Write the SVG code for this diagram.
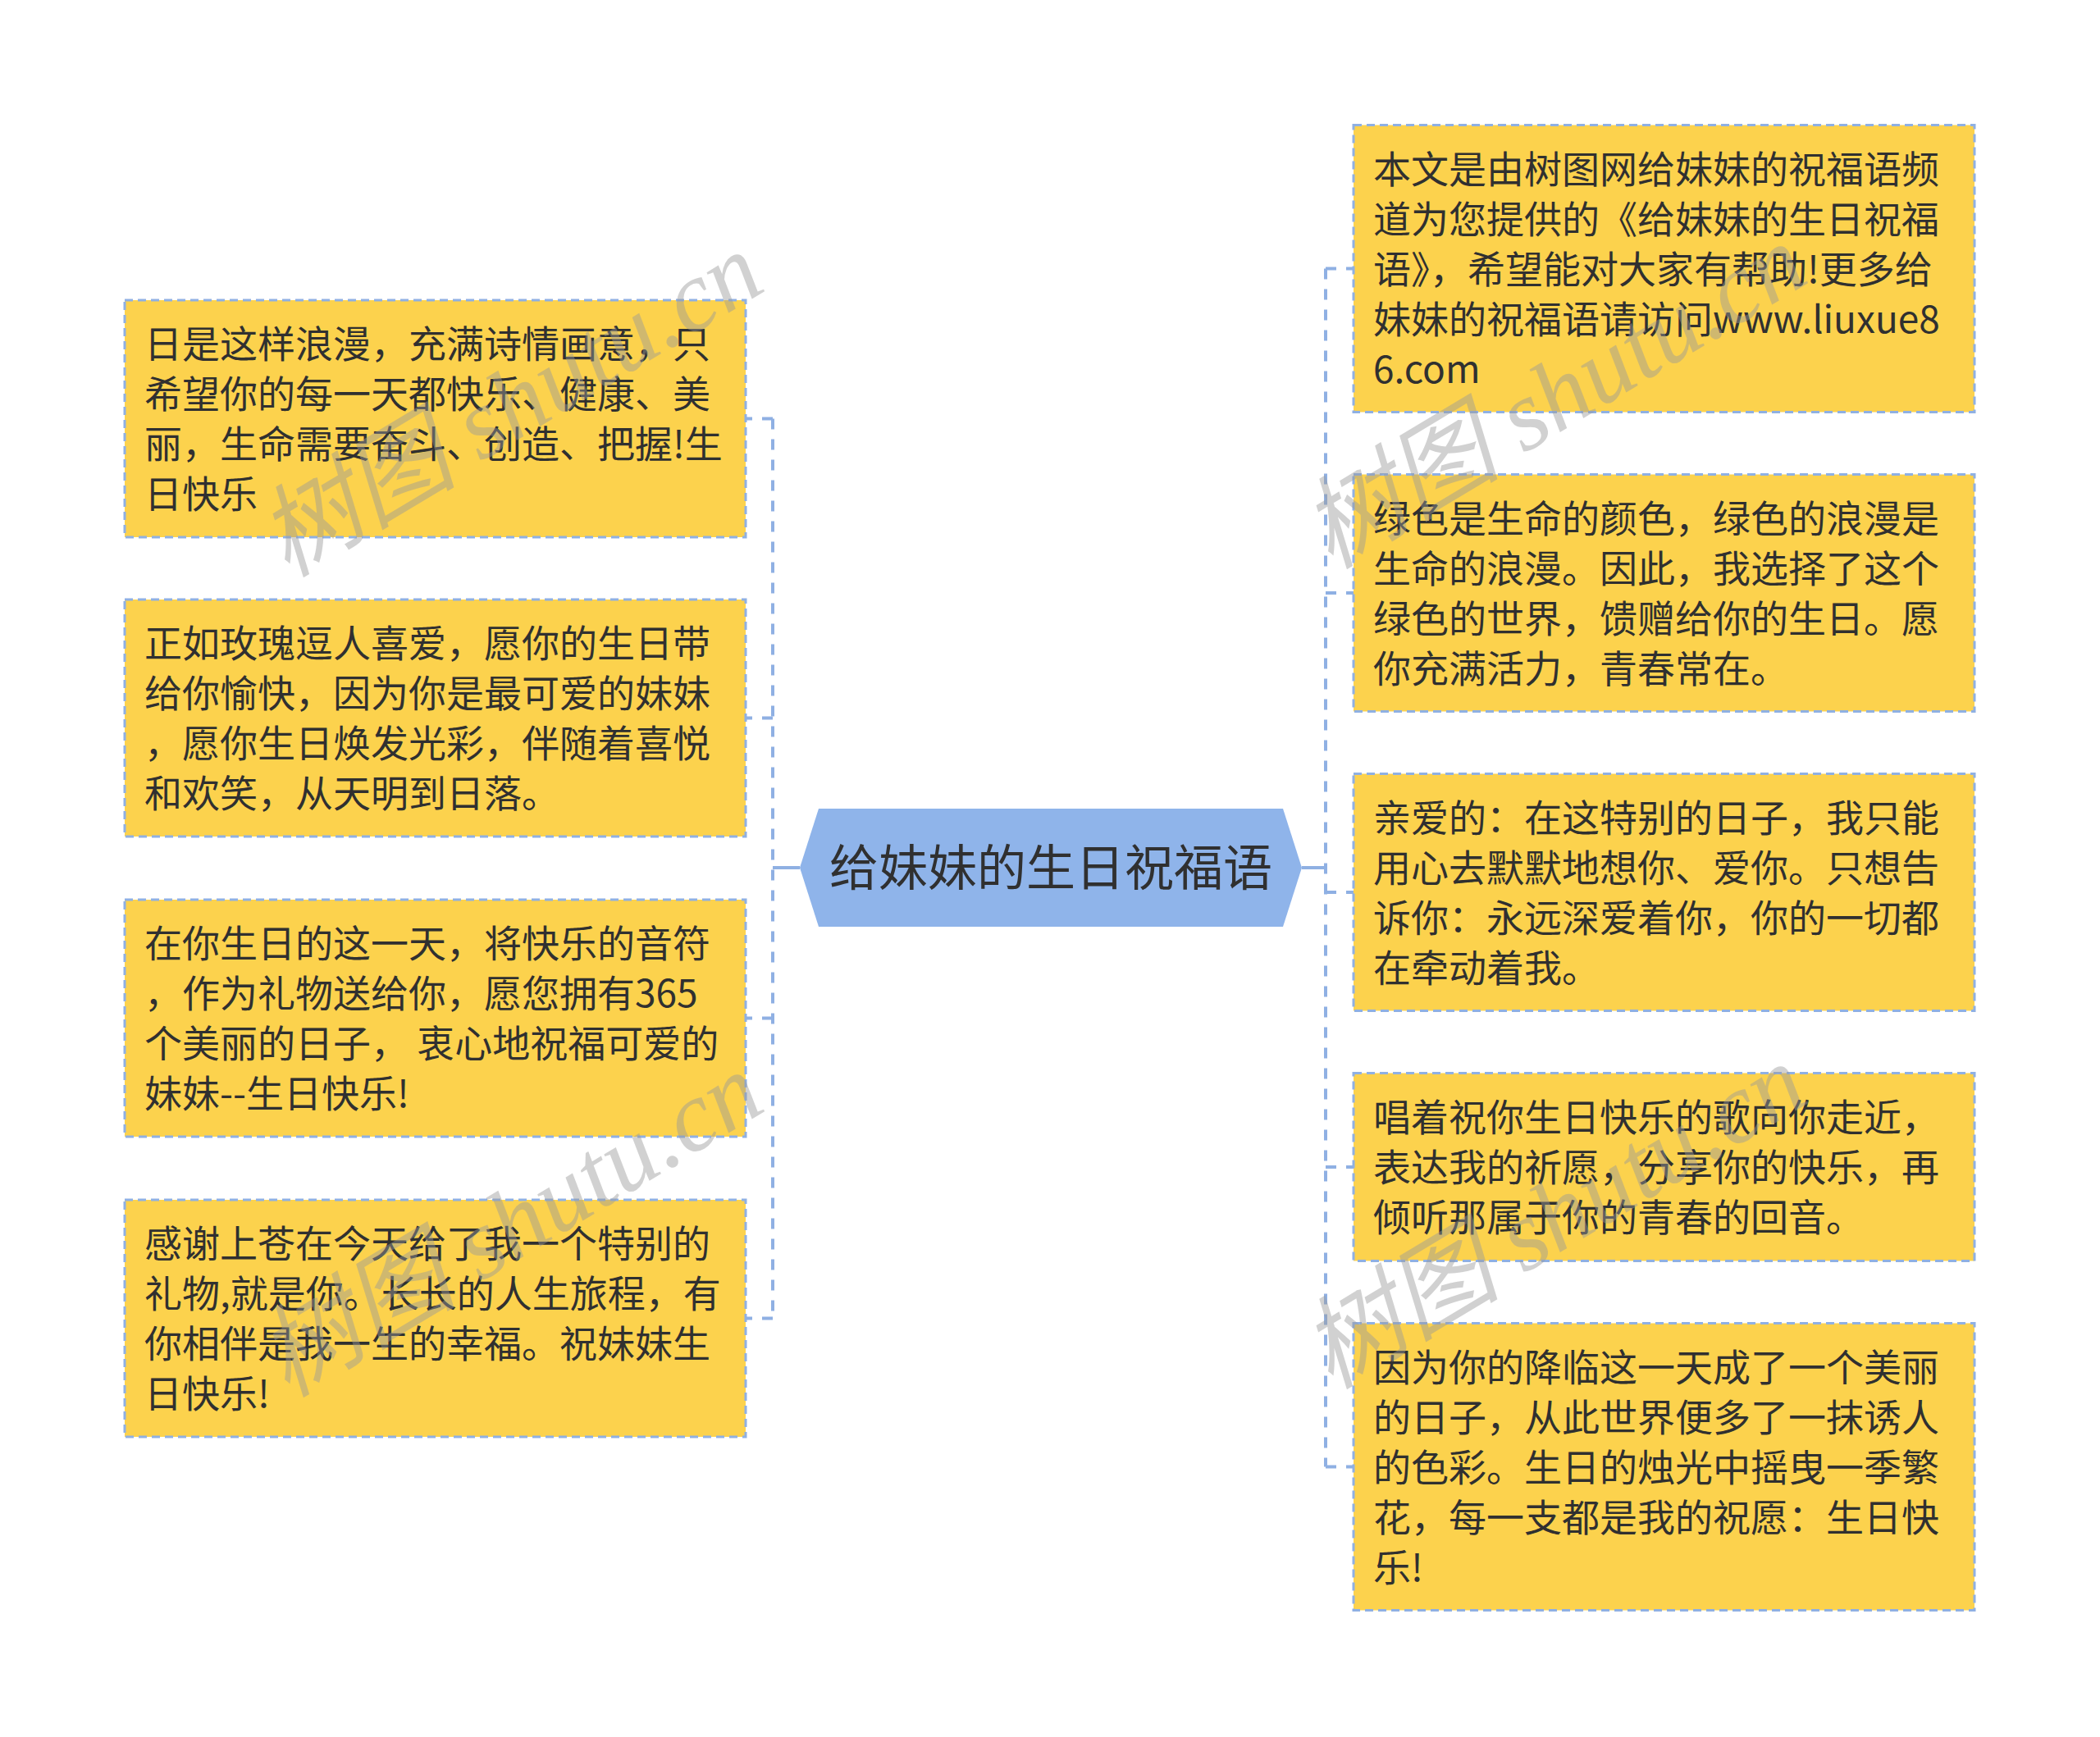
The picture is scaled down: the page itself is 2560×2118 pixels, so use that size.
<svg xmlns="http://www.w3.org/2000/svg" width="2560" height="2118" viewBox="0 0 2560 2118">
<style>
.box{fill:#fcd24d;stroke:#8fb0e3;stroke-width:3;stroke-dasharray:10 6}
.t{font-family:"Noto Sans CJK SC","Noto Sans",sans-serif;font-size:46px;fill:#303030}
.ct{font-family:"Noto Sans CJK SC","Noto Sans",sans-serif;font-size:60px;fill:#303030}
.c{fill:none;stroke:#8fb0e3;stroke-width:4}
.d{stroke-dasharray:13 12}
.wm{font-family:"Liberation Serif","Noto Sans CJK SC",serif;font-style:italic;font-size:122px;fill:#9a9a9a;fill-opacity:0.45}
</style>
<rect width="2560" height="2118" fill="#ffffff"/>
<g id="connectors">
<path class="c" d="M975 1058H942"/>
<path class="c d" d="M942 510.5V1607.5"/>
<path class="c d" d="M942 510.5H909M942 875.5H909M942 1241.5H909M942 1607.5H909"/>
<path class="c" d="M1587 1058H1616"/>
<path class="c d" d="M1616 327.5V1788.5"/>
<path class="c d" d="M1616 327.5H1650M1616 723H1650M1616 1088H1650M1616 1423H1650M1616 1788.5H1650"/>
</g>
<g id="center">
<polygon points="975,1058 998,986 1564,986 1587,1058 1564,1130 998,1130" fill="#8fb4ea"/>
<text class="ct" x="1281" y="1080" text-anchor="middle">给妹妹的生日祝福语</text>
</g>
<g id="L1">
<rect class="box" x="152" y="366" width="757" height="289"/>
<text class="t" x="176"><tspan x="176" y="436">日是这样浪漫，充满诗情画意，只</tspan><tspan x="176" y="497">希望你的每一天都快乐、健康、美</tspan><tspan x="176" y="558">丽，生命需要奋斗、创造、把握!生</tspan><tspan x="176" y="619">日快乐</tspan></text>
</g>
<g id="L2">
<rect class="box" x="152" y="731" width="757" height="289"/>
<text class="t" x="176"><tspan x="176" y="801">正如玫瑰逗人喜爱，愿你的生日带</tspan><tspan x="176" y="862">给你愉快，因为你是最可爱的妹妹</tspan><tspan x="176" y="923">，愿你生日焕发光彩，伴随着喜悦</tspan><tspan x="176" y="984">和欢笑，从天明到日落。</tspan></text>
</g>
<g id="L3">
<rect class="box" x="152" y="1097" width="757" height="289"/>
<text class="t" x="176"><tspan x="176" y="1167">在你生日的这一天，将快乐的音符</tspan><tspan x="176" y="1228">，作为礼物送给你，愿您拥有365</tspan><tspan x="176" y="1289">个美丽的日子， 衷心地祝福可爱的</tspan><tspan x="176" y="1350">妹妹--生日快乐!</tspan></text>
</g>
<g id="L4">
<rect class="box" x="152" y="1463" width="757" height="289"/>
<text class="t" x="176"><tspan x="176" y="1533">感谢上苍在今天给了我一个特别的</tspan><tspan x="176" y="1594">礼物,就是你。长长的人生旅程，有</tspan><tspan x="176" y="1655">你相伴是我一生的幸福。祝妹妹生</tspan><tspan x="176" y="1716">日快乐!</tspan></text>
</g>
<g id="R1">
<rect class="box" x="1650" y="152.5" width="757" height="350"/>
<text class="t" x="1674"><tspan x="1674" y="223">本文是由树图网给妹妹的祝福语频</tspan><tspan x="1674" y="284">道为您提供的《给妹妹的生日祝福</tspan><tspan x="1674" y="345">语》，希望能对大家有帮助!更多给</tspan><tspan x="1674" y="406">妹妹的祝福语请访问www.liuxue8</tspan><tspan x="1674" y="467">6.com</tspan></text>
</g>
<g id="R2">
<rect class="box" x="1650" y="578.5" width="757" height="289"/>
<text class="t" x="1674"><tspan x="1674" y="649">绿色是生命的颜色，绿色的浪漫是</tspan><tspan x="1674" y="710">生命的浪漫。因此，我选择了这个</tspan><tspan x="1674" y="771">绿色的世界，馈赠给你的生日。愿</tspan><tspan x="1674" y="832">你充满活力，青春常在。</tspan></text>
</g>
<g id="R3">
<rect class="box" x="1650" y="943.5" width="757" height="289"/>
<text class="t" x="1674"><tspan x="1674" y="1014">亲爱的：在这特别的日子，我只能</tspan><tspan x="1674" y="1075">用心去默默地想你、爱你。只想告</tspan><tspan x="1674" y="1136">诉你：永远深爱着你，你的一切都</tspan><tspan x="1674" y="1197">在牵动着我。</tspan></text>
</g>
<g id="R4">
<rect class="box" x="1650" y="1308.5" width="757" height="229"/>
<text class="t" x="1674"><tspan x="1674" y="1379">唱着祝你生日快乐的歌向你走近，</tspan><tspan x="1674" y="1440">表达我的祈愿，分享你的快乐，再</tspan><tspan x="1674" y="1501">倾听那属于你的青春的回音。</tspan></text>
</g>
<g id="R5">
<rect class="box" x="1650" y="1613.5" width="757" height="350"/>
<text class="t" x="1674"><tspan x="1674" y="1684">因为你的降临这一天成了一个美丽</tspan><tspan x="1674" y="1745">的日子，从此世界便多了一抹诱人</tspan><tspan x="1674" y="1806">的色彩。生日的烛光中摇曳一季繁</tspan><tspan x="1674" y="1867">花，每一支都是我的祝愿：生日快</tspan><tspan x="1674" y="1928">乐!</tspan></text>
</g>
<g id="watermarks">
<text class="wm" transform="translate(350 705) rotate(-31)">树图 shutu.cn</text>
<text class="wm" transform="translate(350 1705) rotate(-31)">树图 shutu.cn</text>
<text class="wm" transform="translate(1622 695) rotate(-31)">树图 shutu.cn</text>
<text class="wm" transform="translate(1622 1695) rotate(-31)">树图 shutu.cn</text>
</g>
</svg>
